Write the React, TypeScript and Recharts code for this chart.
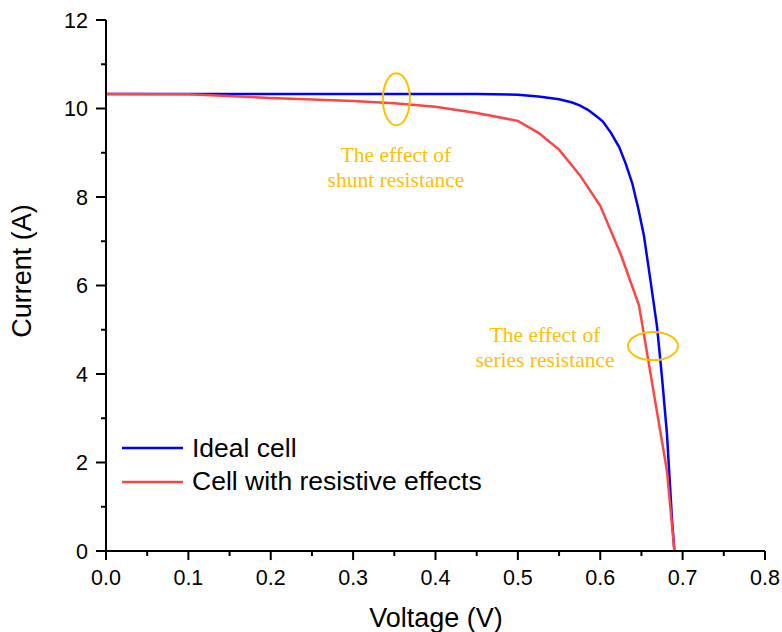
import { LineChart, Line, XAxis, YAxis, ReferenceDot, Customized } from "recharts";

// ideal cell (blue)
const idealV = [0, 0.1, 0.2, 0.3, 0.4, 0.45, 0.5, 0.525, 0.55, 0.565, 0.575, 0.585, 0.595, 0.603, 0.613, 0.623, 0.631, 0.639, 0.646, 0.653, 0.661, 0.669, 0.675, 0.681, 0.687, 0.69];
const idealI = [10.33, 10.33, 10.33, 10.33, 10.33, 10.33, 10.31, 10.27, 10.21, 10.14, 10.07, 9.97, 9.83, 9.71, 9.45, 9.13, 8.75, 8.3, 7.75, 7.13, 6.11, 5.06, 3.92, 2.64, 0.75, 0];

// cell with series + shunt resistance (red)
const resV = [0, 0.1, 0.2, 0.3, 0.35, 0.4, 0.45, 0.5, 0.525, 0.55, 0.575, 0.6, 0.625, 0.647, 0.681, 0.69];
const resI = [10.33, 10.32, 10.24, 10.17, 10.12, 10.04, 9.9, 9.72, 9.45, 9.07, 8.5, 7.8, 6.7, 5.55, 1.81, 0];

const xTicks = [0, 0.05, 0.1, 0.15, 0.2, 0.25, 0.3, 0.35, 0.4, 0.45, 0.5, 0.55, 0.6, 0.65, 0.7, 0.75, 0.8];
const yTicks = [0, 1, 2, 3, 4, 5, 6, 7, 8, 9, 10, 11, 12];

const idealData = idealV.map((v, k) => ({ v, i: idealI[k] }));
const resData = resV.map((v, k) => ({ v, i: resI[k] }));

const BLUE = "#0000FF";
const RED = "#FF4444";
const GOLD = "#FFC000";
const SANS = "'Liberation Sans', Arial, sans-serif";
const SERIF = "'Liberation Serif', 'Times New Roman', serif";

const XTick = ({ x, y, payload }: any) => {
  const v = payload.value;
  const major = Math.abs(v * 10 - Math.round(v * 10)) < 1e-6;
  return (
    <g>
      <line x1={x} x2={x} y1={y} y2={y + (major ? 9 : 5)} stroke="#000" strokeWidth={2} />
      {major && (
        <text x={x} y={y + 34} textAnchor="middle" fontSize={21.5} fontFamily={SANS} fill="#000">
          {v.toFixed(1)}
        </text>
      )}
    </g>
  );
};

const YTick = ({ x, y, payload }: any) => {
  const v = payload.value;
  const major = v % 2 === 0;
  return (
    <g>
      <line x1={x} x2={x - (major ? 10 : 5)} y1={y} y2={y} stroke="#000" strokeWidth={2} />
      {major && (
        <text x={x - 18} y={y + 7.5} textAnchor="end" fontSize={21.5} fontFamily={SANS} fill="#000">
          {v}
        </text>
      )}
    </g>
  );
};

const Ellipse = ({ cx, cy, rx, ry }: any) => (
  <ellipse cx={cx} cy={cy} rx={rx} ry={ry} fill="none" stroke={GOLD} strokeWidth={2} />
);

const Note = ({ cx, cy, lines }: any) => (
  <text x={cx} y={cy} textAnchor="middle" fontSize={21.5} fontFamily={SERIF} fill={GOLD}>
    {lines.map((t: string, k: number) => (
      <tspan key={k} x={cx} dy={k === 0 ? 0 : 25}>
        {t}
      </tspan>
    ))}
  </text>
);

const Extras = () => (
  <g fontFamily={SANS} fill="#000">
    <text x={31} y={271} transform="rotate(-90 31 271)" textAnchor="middle" fontSize={27}>
      Current (A)
    </text>
    <text x={436} y={627} textAnchor="middle" fontSize={27}>
      Voltage (V)
    </text>
    <line x1={122} x2={183} y1={448} y2={448} stroke={BLUE} strokeWidth={2.5} />
    <text x={192} y={457} fontSize={26.5}>Ideal cell</text>
    <line x1={122} x2={183} y1={482} y2={482} stroke={RED} strokeWidth={2.5} />
    <text x={192} y={490} fontSize={26.5}>Cell with resistive effects</text>
  </g>
);

export default function App() {
  return (
    <div style={{ position: "absolute", left: 0, top: 0 }}>
      <LineChart width={782} height={632} margin={{ top: 20, right: 17, left: 0, bottom: 0 }}>
        <XAxis
          dataKey="v"
          type="number"
          domain={[0, 0.8]}
          ticks={xTicks}
          interval={0}
          height={81}
          tickSize={0}
          tickMargin={0}
          tickLine={false}
          tick={<XTick />}
          axisLine={{ stroke: "#000", strokeWidth: 2 }}
          allowDataOverflow
        />
        <XAxis
          xAxisId="top"
          orientation="top"
          type="number"
          domain={[0, 0.8]}
          height={0}
          tick={false}
          tickLine={false}
          axisLine={{ stroke: "#000", strokeWidth: 2 }}
        />
        <YAxis
          type="number"
          domain={[0, 12]}
          ticks={yTicks}
          interval={0}
          width={106}
          tickSize={0}
          tickMargin={0}
          tickLine={false}
          tick={<YTick />}
          axisLine={{ stroke: "#000", strokeWidth: 2 }}
        />
        <YAxis
          yAxisId="right"
          orientation="right"
          type="number"
          domain={[0, 12]}
          width={0}
          tick={false}
          tickLine={false}
          axisLine={{ stroke: "#000", strokeWidth: 2 }}
        />
        <Line data={idealData} dataKey="i" type="linear" stroke={BLUE} strokeWidth={2.5} dot={false} isAnimationActive={false} />
        <Line data={resData} dataKey="i" type="linear" stroke={RED} strokeWidth={2.5} dot={false} isAnimationActive={false} />
        <ReferenceDot x={0.3525} y={10.21} shape={(p: any) => <Ellipse {...p} rx={13.5} ry={26} />} />
        <ReferenceDot x={0.664} y={4.63} shape={(p: any) => <Ellipse {...p} rx={25} ry={14} />} />
        <ReferenceDot x={0.352} y={8.79} shape={(p: any) => <Note {...p} lines={["The effect of", "shunt resistance"]} />} />
        <ReferenceDot x={0.533} y={4.72} shape={(p: any) => <Note {...p} lines={["The effect of", "series resistance"]} />} />
        <Customized component={Extras} />
      </LineChart>
    </div>
  );
}
